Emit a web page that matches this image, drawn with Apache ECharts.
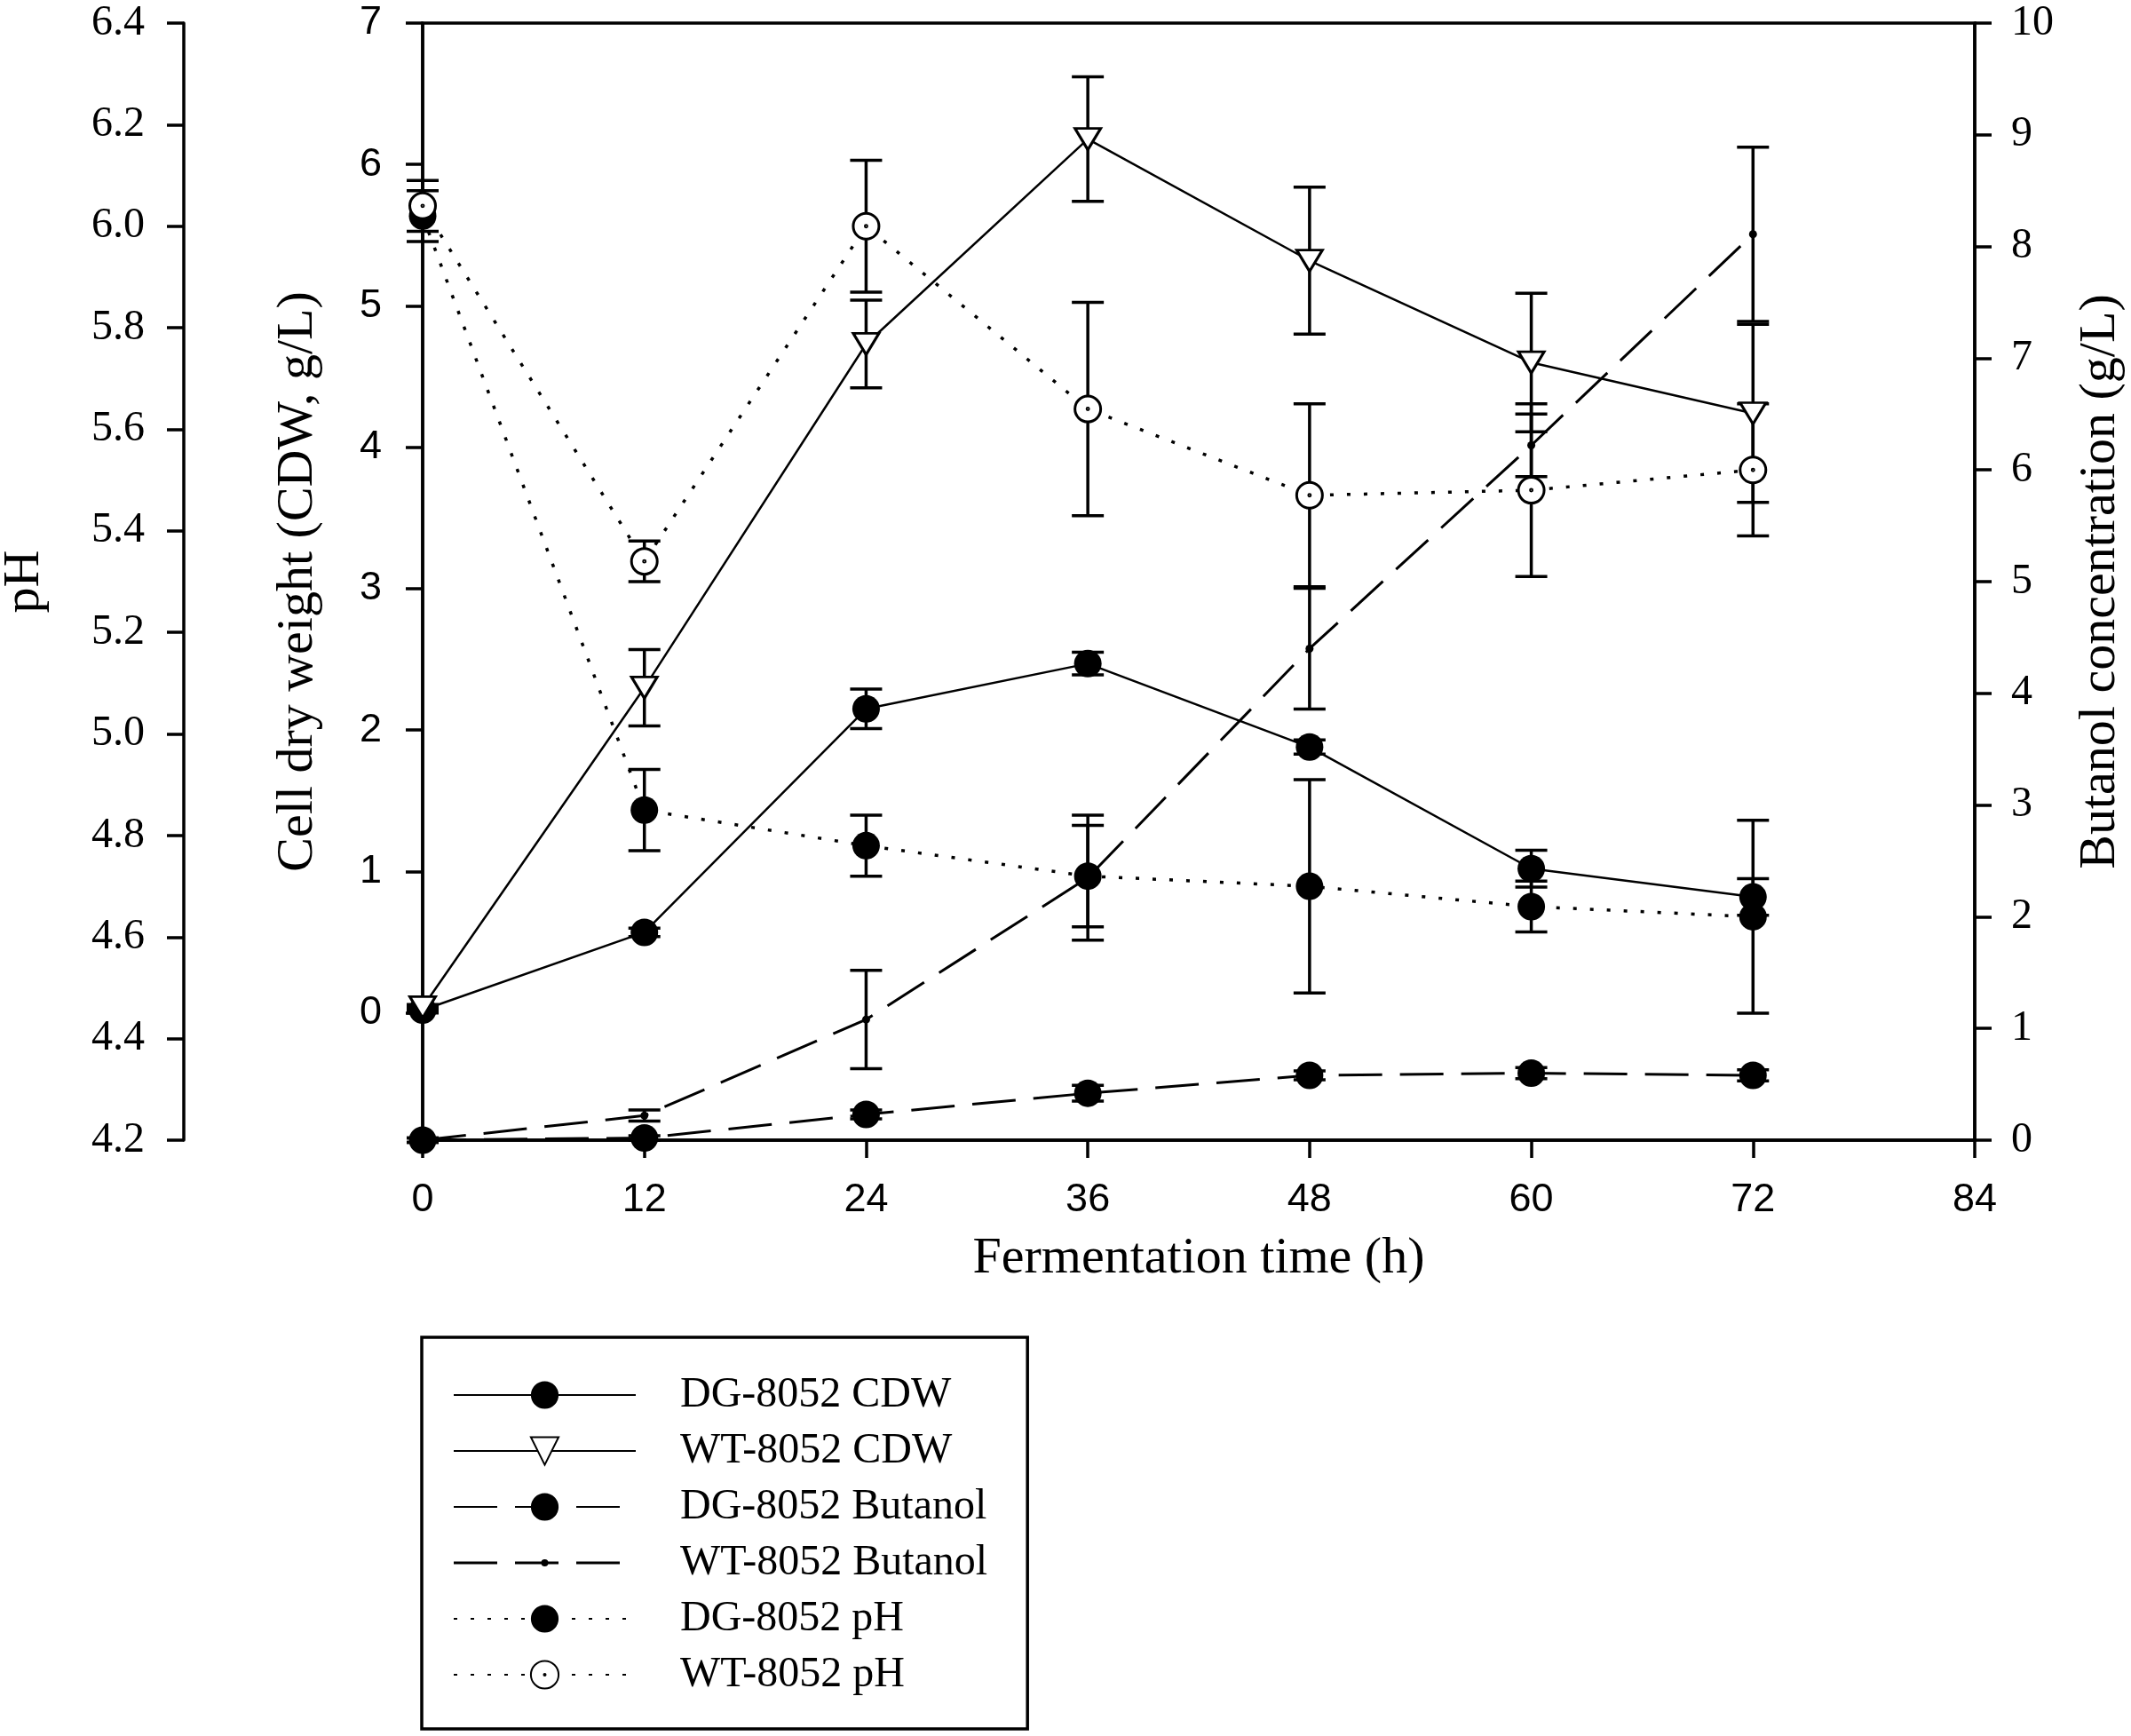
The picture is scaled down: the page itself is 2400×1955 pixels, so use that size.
<!DOCTYPE html>
<html lang="en">
<head>
    <meta charset="UTF-8">
    <title>Cell dry weight, butanol and pH during fermentation</title>
    <script src="https://cdn.jsdelivr.net/npm/echarts/dist/echarts.min.js"></script>
    <style>
        html, body { margin: 0; padding: 0; background: #fff; }
        #chart-container { width: 2400px; height: 1955px; }
    </style>
</head>
<body>
    <div id="chart-container"></div>
    <script>
        // sampling times (h) and axis tick labels
        var hours = [0, 12, 24, 36, 48, 60, 72];
        var cdwTicks = [0, 1, 2, 3, 4, 5, 6, 7];
        var phTicks = [4.2, 4.4, 4.6, 4.8, 5.0, 5.2, 5.4, 5.6, 5.8, 6.0, 6.2, 6.4];

        // cell dry weight (g/L)
        var dgCdw = [0.02, 0.57, 2.15, 2.47, 1.88, 1.02, 0.82];
        var dgCdwErr = [0.02, 0.03, 0.14, 0.08, 0.05, 0.13, 0.13];
        var wtCdw = [0.04, 2.30, 4.73, 6.18, 5.32, 4.60, 4.24];
        var wtCdwErr = [0.02, 0.27, 0.31, 0.44, 0.52, 0.49, 0.63];

        // butanol (g/L)
        var dgButanol = [0.00, 0.02, 0.23, 0.42, 0.58, 0.60, 0.58];
        var dgButanolErr = [0.02, 0.02, 0.04, 0.07, 0.04, 0.05, 0.05];
        var wtButanol = [0.00, 0.22, 1.08, 2.35, 4.40, 6.22, 8.11];
        var wtButanolErr = [0.02, 0.05, 0.44, 0.56, 0.54, 0.28, 0.78];

        // pH
        var dgPh = [6.02, 4.85, 4.78, 4.72, 4.70, 4.66, 4.64];
        var dgPhErr = [0.05, 0.08, 0.06, 0.10, 0.21, 0.05, 0.19];
        var wtPh = [6.04, 5.34, 6.00, 5.64, 5.47, 5.48, 5.52];
        var wtPhErr = [0.05, 0.04, 0.13, 0.21, 0.18, 0.17, 0.13];

        var SERIF = '"Liberation Serif", "Times New Roman", serif';
        var SANS = '"Liberation Sans", Arial, sans-serif';

        // open circle with a dot in the middle
        var dotCircle = 'path://M15,0A15,15,0,1,1,-15,0A15,15,0,1,1,15,0ZM1,0A1,1,0,1,1,-1,0A1,1,0,1,1,1,0Z';
        // legend sample for the small-dot dashed series (box 205 x 39)
        var smallDotDash = 'path://M0,0L0,0M205,39L205,39M0,18L49,18L49,21L0,21Z' +
            'M69,18L118,18L118,21L69,21ZM138,18L187,18L187,21L138,21Z' +
            'M102.5,15.5A4,4,0,1,1,102.5,23.5A4,4,0,1,1,102.5,15.5Z';

        function pairs(vals) {
            return hours.map(function (t, i) { return [t, vals[i]]; });
        }

        function renderErrorBar(params, api) {
            var hi = api.coord([api.value(0), api.value(2)]);
            var lo = api.coord([api.value(0), api.value(1)]);
            var half = 18;
            var style = { stroke: '#000', lineWidth: 3.5 };
            return {
                type: 'group',
                children: [
                    { type: 'line', shape: { x1: hi[0], y1: hi[1], x2: lo[0], y2: lo[1] }, style: style },
                    { type: 'line', shape: { x1: hi[0] - half, y1: hi[1], x2: hi[0] + half, y2: hi[1] }, style: style },
                    { type: 'line', shape: { x1: lo[0] - half, y1: lo[1], x2: lo[0] + half, y2: lo[1] }, style: style }
                ]
            };
        }

        function errorSeries(vals, errs, yIdx) {
            return {
                type: 'custom',
                yAxisIndex: yIdx,
                z: 1,
                silent: true,
                renderItem: renderErrorBar,
                encode: { x: 0, y: [1, 2] },
                data: hours.map(function (t, i) { return [t, vals[i] - errs[i], vals[i] + errs[i]]; })
            };
        }

        function lineSeries(name, vals, yIdx, dash, width, marker) {
            return Object.assign({
                name: name,
                type: 'line',
                yAxisIndex: yIdx,
                z: 3,
                data: pairs(vals),
                lineStyle: { color: '#000', width: width, type: dash },
                itemStyle: { color: '#000' }
            }, marker);
        }

        var filled = { symbol: 'circle', symbolSize: 31, itemStyle: { color: '#000' } };
        var dashed = [49, 20];
        var dotted = [4, 15];

        var myChart = echarts.init(document.getElementById('chart-container'));

        var option = {
            animation: false,
            backgroundColor: '#fff',
            textStyle: { fontFamily: SERIF, color: '#000' },
            grid: {
                left: 476, right: 176, top: 26, bottom: 671,
                show: true, borderColor: '#000', borderWidth: 3.5,
                containLabel: false, outerBoundsMode: 'none'
            },
            legend: {
                orient: 'vertical',
                left: 475,
                top: 1506,
                align: 'left',
                itemWidth: 205,
                itemHeight: 39,
                itemGap: 15,
                padding: [41, 45, 37, 35],
                borderColor: '#000',
                borderWidth: 3.5,
                textStyle: { fontFamily: SERIF, fontSize: 48, color: '#000', padding: [0, 0, 0, 45] },
                data: [
                    'DG-8052 CDW',
                    'WT-8052 CDW',
                    'DG-8052 Butanol',
                    { name: 'WT-8052 Butanol', icon: smallDotDash },
                    'DG-8052 pH',
                    'WT-8052 pH'
                ]
            },
            xAxis: {
                type: 'value',
                min: 0, max: 84, interval: 12,
                name: 'Fermentation time (h)',
                nameLocation: 'middle',
                nameGap: 105,
                nameTextStyle: { fontFamily: SERIF, fontSize: 58, color: '#000' },
                axisLine: { onZero: false, lineStyle: { color: '#000', width: 3.5 } },
                axisTick: { inside: false, length: 20, lineStyle: { color: '#000', width: 3.5 } },
                axisLabel: { fontFamily: SANS, fontSize: 45, color: '#000', margin: 45 },
                splitLine: { show: false }
            },
            yAxis: [
                {
                    type: 'value',
                    position: 'left',
                    min: -0.9, max: 7,
                    name: 'Cell dry weight (CDW, g/L)',
                    nameLocation: 'middle',
                    nameRotate: 90,
                    nameGap: 111,
                    nameTextStyle: { fontFamily: SERIF, fontSize: 58, color: '#000' },
                    axisLine: { show: true, onZero: false, lineStyle: { color: '#000', width: 3.5 } },
                    axisTick: { show: true, length: 19, customValues: cdwTicks, lineStyle: { color: '#000', width: 3.5 } },
                    axisLabel: { customValues: cdwTicks, fontFamily: SANS, fontSize: 45, color: '#000', margin: 46 },
                    splitLine: { show: false }
                },
                {
                    type: 'value',
                    position: 'left',
                    offset: 269,
                    min: 4.2, max: 6.4,
                    name: 'pH',
                    nameLocation: 'middle',
                    nameRotate: 90,
                    nameGap: 150,
                    nameTextStyle: { fontFamily: SERIF, fontSize: 58, color: '#000' },
                    axisLine: { show: true, onZero: false, lineStyle: { color: '#000', width: 3.5 } },
                    axisTick: { show: true, length: 19, customValues: phTicks, lineStyle: { color: '#000', width: 3.5 } },
                    axisLabel: {
                        customValues: phTicks,
                        fontFamily: SERIF, fontSize: 48, color: '#000', margin: 44,
                        formatter: function (v) { return v.toFixed(1); }
                    },
                    splitLine: { show: false }
                },
                {
                    type: 'value',
                    position: 'right',
                    min: 0, max: 10, interval: 1,
                    name: 'Butanol concentration (g/L)',
                    nameLocation: 'middle',
                    nameRotate: 90,
                    nameGap: 113,
                    nameTextStyle: { fontFamily: SERIF, fontSize: 58, color: '#000' },
                    axisLine: { show: true, onZero: false, lineStyle: { color: '#000', width: 3.5 } },
                    axisTick: { show: true, length: 19, lineStyle: { color: '#000', width: 3.5 } },
                    axisLabel: { fontFamily: SERIF, fontSize: 48, color: '#000', margin: 41 },
                    splitLine: { show: false }
                }
            ],
            series: [
                errorSeries(dgCdw, dgCdwErr, 0),
                errorSeries(wtCdw, wtCdwErr, 0),
                errorSeries(dgButanol, dgButanolErr, 2),
                errorSeries(wtButanol, wtButanolErr, 2),
                errorSeries(dgPh, dgPhErr, 1),
                errorSeries(wtPh, wtPhErr, 1),

                lineSeries('DG-8052 CDW', dgCdw, 0, 'solid', 2.5, filled),
                lineSeries('WT-8052 CDW', wtCdw, 0, 'solid', 2.5, {
                    symbol: 'triangle', symbolRotate: 180, symbolSize: [29, 24],
                    itemStyle: { color: '#fff', borderColor: '#000', borderWidth: 3 }
                }),
                lineSeries('DG-8052 Butanol', dgButanol, 2, dashed, 3, filled),
                lineSeries('WT-8052 Butanol', wtButanol, 2, dashed, 3, {
                    symbol: 'circle', symbolSize: 9, itemStyle: { color: '#000' }
                }),
                lineSeries('DG-8052 pH', dgPh, 1, dotted, 3.5, filled),
                lineSeries('WT-8052 pH', wtPh, 1, dotted, 3.5, {
                    symbol: dotCircle, symbolSize: 29,
                    itemStyle: { color: '#fff', borderColor: '#000', borderWidth: 3 }
                })
            ]
        };

        myChart.setOption(option);
    </script>
</body>
</html>
